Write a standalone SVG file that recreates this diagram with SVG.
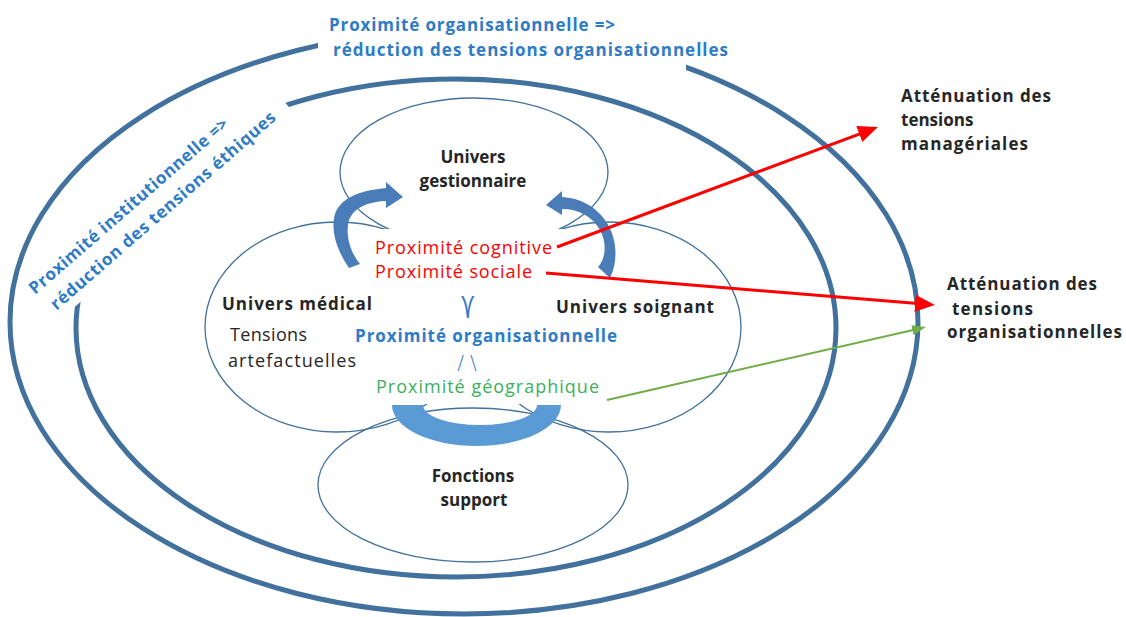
<svg xmlns="http://www.w3.org/2000/svg" width="1126" height="617" viewBox="0 0 1126 617">
<style>
.ring{fill:none;stroke:#41719C;stroke-width:5}
.node{fill:none;stroke:#41719C;stroke-width:1.3}
.mask{fill:#fff}
.t{font-family:"Open Sans","Noto Sans","Liberation Sans",sans-serif;font-size:17px}
.r{font-size:18px}
.b{font-weight:700}
.blk{fill:#262626}
.blue{fill:#2E7BC6}
.red{fill:#FF0000}
.green{fill:#3DB05A}
.sym{font-family:"DejaVu Sans",sans-serif;font-weight:200;fill:#2E7BC6}
.carrow{fill:#4A7DB8}
.band{fill:#5B9BD5}
.lred{fill:none;stroke:#FF0000;stroke-width:3}
.lgreen{fill:none;stroke:#70AD47;stroke-width:2}
</style>
<defs>
<marker id="ahRed" markerUnits="userSpaceOnUse" markerWidth="22" markerHeight="18" refX="15" refY="8.5" orient="auto"><path d="M0,0 L20,8.5 L0,17 z" fill="#FF0000"/></marker>
<marker id="ahGreen" markerUnits="userSpaceOnUse" markerWidth="16" markerHeight="12" refX="11" refY="5" orient="auto"><path d="M0,0 L14,5 L0,10 z" fill="#70AD47"/></marker>
</defs>
<rect width="1126" height="617" fill="#fff"/>

<g id="proximite-organisationnelle-ring">
<ellipse class="ring" cx="464" cy="322" rx="454" ry="292"/>
<rect class="mask" x="318" y="5" width="368" height="67"/>
<text class="t b blue" x="329" y="31" textLength="286">Proximité organisationnelle =&gt;</text>
<text class="t b blue" x="333" y="56" textLength="395">réduction des tensions organisationnelles</text>
</g>

<g id="proximite-institutionnelle-ring">
<ellipse class="ring" cx="456" cy="328" rx="380" ry="249"/>
<g transform="translate(35,295) rotate(-41)">
<rect class="mask" x="-5" y="-18" width="320" height="53"/>
<text class="t b blue" x="0" y="0" textLength="258">Proximité institutionnelle =&gt;</text>
<text class="t b blue" x="6" y="26" textLength="292">réduction des tensions éthiques</text>
</g>
</g>

<g id="univers-gestionnaire">
<ellipse class="node" cx="474" cy="172" rx="134" ry="74"/>
<text class="t b blk" x="473" y="163" text-anchor="middle">Univers</text>
<text class="t b blk" x="473" y="187" text-anchor="middle">gestionnaire</text>
</g>

<g id="univers-medical">
<ellipse class="node" cx="337" cy="327" rx="132" ry="105"/>
<text class="t b blk" x="222" y="310" textLength="150">Univers médical</text>
<text class="t r blk" x="230" y="341" textLength="77">Tensions</text>
<text class="t r blk" x="228" y="367" textLength="128">artefactuelles</text>
</g>

<g id="univers-soignant">
<ellipse class="node" cx="609" cy="327" rx="132" ry="105"/>
<text class="t b blk" x="556" y="313" textLength="158">Univers soignant</text>
</g>

<g id="fonctions-support">
<ellipse class="node" cx="473" cy="485" rx="155" ry="77"/>
<text class="t b blk" x="473" y="482" text-anchor="middle">Fonctions</text>
<text class="t b blk" x="474" y="506" text-anchor="middle">support</text>
</g>

<g id="proximites-centre">
<path class="mask" d="M372,229 H566 V294 H552 V404 H372 Z"/>
<text class="t r red" x="375" y="254" textLength="177">Proximité cognitive</text>
<text class="t r red" x="375" y="278" textLength="157">Proximité sociale</text>
<text class="sym" transform="translate(468,318) scale(0.8,1.45)" font-size="26" text-anchor="middle">⋎</text>
<text class="sym" x="470" y="369" font-size="20" text-anchor="middle" letter-spacing="6">/\</text>
<text class="t b blue" x="355" y="342" textLength="262">Proximité organisationnelle</text>
<text class="t r green" x="376" y="393" textLength="223">Proximité géographique</text>
</g>

<g id="attenuation-tensions-manageriales">
<text class="t b blk" x="901" y="102" textLength="150">Atténuation des</text>
<text class="t b blk" x="901" y="126">tensions</text>
<text class="t b blk" x="901" y="150" textLength="127">managériales</text>
</g>

<g id="attenuation-tensions-organisationnelles">
<text class="t b blk" x="947" y="290" textLength="150">Atténuation des</text>
<text class="t b blk" x="952" y="315" textLength="81">tensions</text>
<text class="t b blk" x="947" y="338" textLength="175">organisationnelles</text>
</g>

<g id="connectors">
<path class="carrow" d="M349,268 C338,252 330,232 335,214 C340,200 355,191 386,188 L386,182 L403,197 L386,208 L386,201 C366,202 354,208 349,220 C345,234 350,252 360,264 Z"/>
<path class="carrow" d="M610,278 C618,262 618,238 605,220 C595,206 580,198 562,197 L562,191 L546,205 L562,215 L562,209 C578,209 592,216 600,230 C607,243 606,258 598,267 Z"/>
<path class="band" d="M392,405 A84.5,41 0 0 0 561,405 L537,405 A57,20 0 0 1 423,405 Z"/>
<line class="lred" x1="557" y1="247" x2="873.3" y2="128.8" marker-end="url(#ahRed)"/>
<line class="lred" x1="546" y1="273" x2="930" y2="304.6" marker-end="url(#ahRed)"/>
<line class="lgreen" x1="607" y1="400" x2="923.1" y2="327.7" marker-end="url(#ahGreen)"/>
</g>
</svg>
